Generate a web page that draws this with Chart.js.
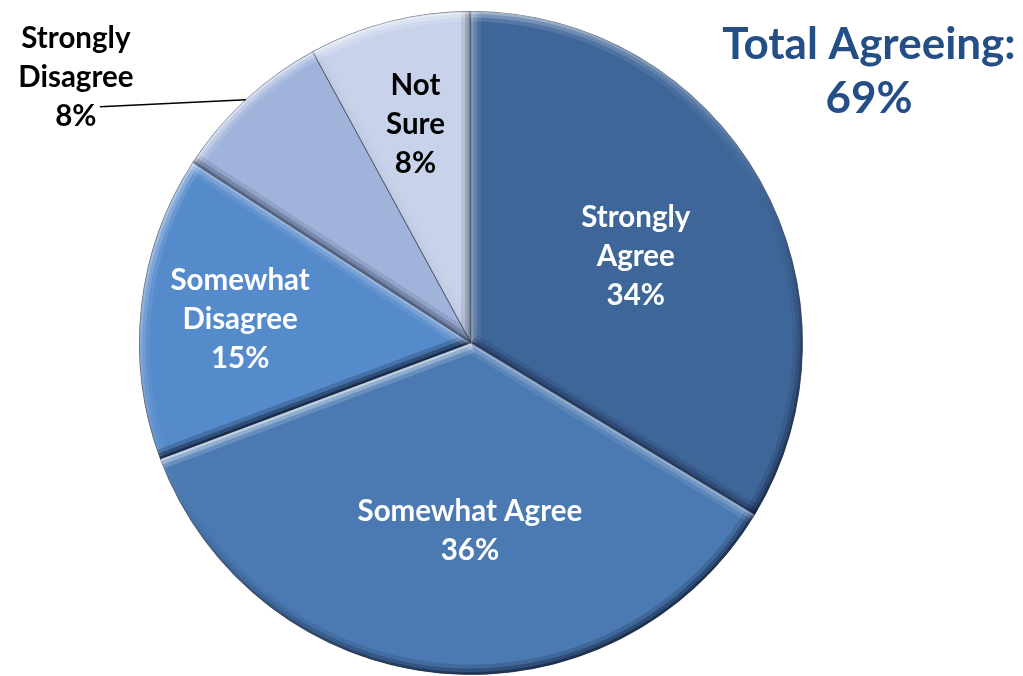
<!DOCTYPE html>
<html>
<head>
<meta charset="utf-8">
<script src="https://cdn.jsdelivr.net/npm/chart.js@4/dist/chart.umd.min.js"></script>
<style>
  html, body { margin: 0; padding: 0; background: #ffffff; }
  canvas { display: block; }
</style>
</head>
<body>
<canvas id="pie" width="1023" height="676"></canvas>
<script>
// Survey responses, clockwise from 12 o'clock
const categories = ['Strongly Agree', 'Somewhat Agree', 'Somewhat Disagree', 'Strongly Disagree', 'Not Sure'];
const values = [34, 36, 15, 8, 8];
const labelLines = [['Strongly', 'Agree'], ['Somewhat Agree'], ['Somewhat', 'Disagree'], ['Strongly', 'Disagree'], ['Not', 'Sure']];
const titleLines = ['Total Agreeing:', '69%'];

// Styling
const sliceColors = ['#3F6699', '#4B7AB2', '#558ACB', '#A0B3DB', '#C8D3EB'];
const labelColors = ['#ffffff', '#ffffff', '#ffffff', '#000000', '#000000'];
const FONT = 'Lato, "Open Sans", sans-serif';

// Where each value label sits: inside at a fraction of the radius
// (with an optional angular nudge in degrees), or outside with a leader line.
const labelPlacement = [
  { r: 0.562, turn: 1.6 },
  { r: 0.566, turn: -5.0 },
  { r: 0.700, turn: -0.5 },
  { outside: true, leader: [-146, 7], text: [-24, -29] },
  { r: 0.680, turn: 0 }
];

// Light comes from the upper left; used for the bevelled edges.
const LIGHT = { x: -0.45, y: -0.89 };
function shadeColor(nx, ny, a) {
  const d = nx * LIGHT.x + ny * LIGHT.y;
  return d >= 0
    ? 'rgba(255,255,255,' + (a * d).toFixed(3) + ')'
    : 'rgba(8,18,40,' + (-a * d * 1.3).toFixed(3) + ')';
}

const bevelPlugin = {
  id: 'bevel',
  afterDatasetsDraw(chart) {
    const ctx = chart.ctx;
    const arcs = chart.getDatasetMeta(0).data;
    const layers = [[20, 0.14], [12, 0.24], [5, 0.36]];
    arcs.forEach(arc => {
      const { x, y, startAngle: a0, endAngle: a1, outerRadius: R } = arc;
      ctx.save();
      ctx.beginPath();
      ctx.moveTo(x, y);
      ctx.arc(x, y, R, a0, a1);
      ctx.closePath();
      ctx.clip();
      ctx.lineCap = 'butt';
      for (const [w, a] of layers) {
        // outer rim, shaded by the direction it faces
        const g = ctx.createConicGradient(0, x, y);
        for (let k = 0; k <= 72; k++) {
          const t = k / 72 * Math.PI * 2;
          g.addColorStop(k / 72, shadeColor(Math.cos(t), Math.sin(t), a));
        }
        ctx.lineWidth = w;
        ctx.strokeStyle = g;
        ctx.beginPath();
        ctx.arc(x, y, R, a0, a1);
        ctx.stroke();
        // the two straight sides
        const sides = [
          { ang: a0, nx: Math.sin(a0), ny: -Math.cos(a0) },
          { ang: a1, nx: -Math.sin(a1), ny: Math.cos(a1) }
        ];
        sides.forEach(s => {
          ctx.strokeStyle = shadeColor(s.nx, s.ny, a * 1.15);
          ctx.beginPath();
          ctx.moveTo(x, y);
          ctx.lineTo(x + R * Math.cos(s.ang), y + R * Math.sin(s.ang));
          ctx.stroke();
        });
      }
      ctx.restore();
    });
  }
};

const labelPlugin = {
  id: 'sliceLabels',
  afterDraw(chart) {
    const ctx = chart.ctx;
    const arcs = chart.getDatasetMeta(0).data;
    const lineH = 39;
    ctx.save();
    ctx.textAlign = 'center';
    ctx.textBaseline = 'middle';
    ctx.font = '700 29.5px ' + FONT;
    arcs.forEach((arc, i) => {
      const { x, y, startAngle: a0, endAngle: a1, outerRadius: R } = arc;
      const lines = labelLines[i].concat([values[i] + '%']);
      const p = labelPlacement[i];
      const mid = (a0 + a1) / 2;
      let cx, cy;
      if (p.outside) {
        const sx = x + R * Math.cos(mid), sy = y + R * Math.sin(mid);
        const ex = sx + p.leader[0], ey = sy + p.leader[1];
        ctx.strokeStyle = '#000000';
        ctx.lineWidth = 1.5;
        ctx.beginPath();
        ctx.moveTo(sx, sy);
        ctx.lineTo(ex, ey);
        ctx.stroke();
        cx = ex + p.text[0];
        cy = ey + p.text[1];
      } else {
        const ang = mid + p.turn * Math.PI / 180;
        cx = x + p.r * R * Math.cos(ang);
        cy = y + p.r * R * Math.sin(ang);
      }
      ctx.fillStyle = labelColors[i];
      const top = cy - (lines.length - 1) * lineH / 2;
      lines.forEach((t, k) => ctx.fillText(t, cx, top + k * lineH));
    });
    // headline
    ctx.fillStyle = '#234F86';
    ctx.font = '700 44px ' + FONT;
    ctx.fillText(titleLines[0], 869, 45);
    ctx.fillText(titleLines[1], 869, 99);
    ctx.restore();
  }
};

new Chart(document.getElementById('pie'), {
  type: 'pie',
  data: {
    labels: categories,
    datasets: [{
      data: values,
      backgroundColor: sliceColors,
      borderColor: 'rgba(70,78,92,0.85)',
      borderWidth: 1
    }]
  },
  options: {
    responsive: false,
    animation: false,
    events: [],
    layout: { padding: { left: 139, right: 220, top: 11, bottom: 1 } },
    plugins: { legend: { display: false }, tooltip: { enabled: false } }
  },
  plugins: [bevelPlugin, labelPlugin]
});
</script>
</body>
</html>
